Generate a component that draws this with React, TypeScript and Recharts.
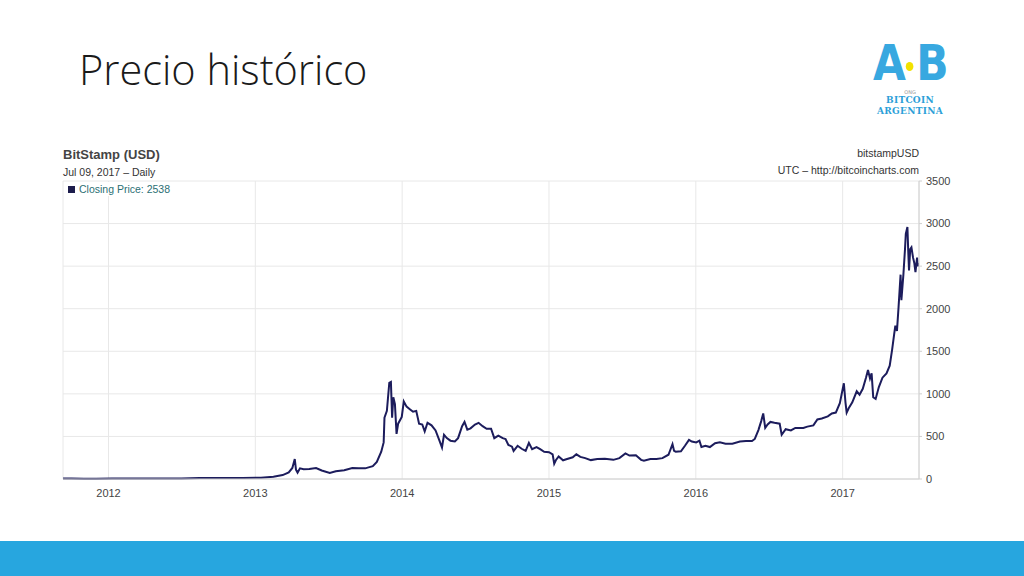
import React from 'react';
import { LineChart, Line, XAxis, YAxis, CartesianGrid } from 'recharts';

// BitStamp daily closing prices (USD)
const closeDates = [
  '2011-09-10', '2011-10-01', '2011-11-01', '2011-12-01', '2012-01-10', '2012-03-01', '2012-05-01',
  '2012-07-01', '2012-08-15', '2012-10-01', '2012-12-01', '2013-01-15', '2013-02-15', '2013-03-10',
  '2013-03-25', '2013-04-03', '2013-04-09', '2013-04-12', '2013-04-16', '2013-04-22', '2013-05-01',
  '2013-05-15', '2013-06-01', '2013-06-15', '2013-07-05', '2013-07-20', '2013-08-10', '2013-08-30',
  '2013-09-15', '2013-10-01', '2013-10-20', '2013-10-30', '2013-11-10', '2013-11-16', '2013-11-18',
  '2013-11-24', '2013-11-30', '2013-12-04', '2013-12-07', '2013-12-10', '2013-12-14', '2013-12-18',
  '2013-12-22', '2013-12-31', '2014-01-05', '2014-01-12', '2014-01-20', '2014-01-28', '2014-02-05',
  '2014-02-12', '2014-02-20', '2014-02-26', '2014-03-05', '2014-03-15', '2014-03-25', '2014-04-03',
  '2014-04-10', '2014-04-15', '2014-04-22', '2014-05-01', '2014-05-12', '2014-05-20', '2014-05-30',
  '2014-06-05', '2014-06-12', '2014-06-20', '2014-07-01', '2014-07-10', '2014-07-20', '2014-07-30',
  '2014-08-10', '2014-08-18', '2014-08-28', '2014-09-08', '2014-09-15', '2014-09-22', '2014-10-01',
  '2014-10-05', '2014-10-15', '2014-10-25', '2014-11-04', '2014-11-12', '2014-11-20', '2014-12-01',
  '2014-12-10', '2014-12-20', '2015-01-01', '2015-01-10', '2015-01-14', '2015-01-18', '2015-01-25',
  '2015-02-05', '2015-02-15', '2015-03-01', '2015-03-10', '2015-03-20', '2015-04-01', '2015-04-15',
  '2015-05-01', '2015-05-20', '2015-06-10', '2015-06-25', '2015-07-10', '2015-07-20', '2015-08-05',
  '2015-08-18', '2015-08-25', '2015-09-10', '2015-09-25', '2015-10-10', '2015-10-25', '2015-11-04',
  '2015-11-08', '2015-11-12', '2015-11-25', '2015-12-05', '2015-12-15', '2015-12-22', '2016-01-02',
  '2016-01-10', '2016-01-15', '2016-01-25', '2016-02-05', '2016-02-18', '2016-03-01', '2016-03-15',
  '2016-04-01', '2016-04-20', '2016-05-05', '2016-05-20', '2016-05-27', '2016-06-05', '2016-06-12',
  '2016-06-17', '2016-06-22', '2016-06-28', '2016-07-05', '2016-07-15', '2016-07-28', '2016-08-02',
  '2016-08-12', '2016-08-25', '2016-09-05', '2016-09-25', '2016-10-05', '2016-10-20', '2016-10-30',
  '2016-11-10', '2016-11-25', '2016-12-05', '2016-12-15', '2016-12-25', '2017-01-04', '2017-01-08',
  '2017-01-11', '2017-01-16', '2017-01-25', '2017-02-05', '2017-02-12', '2017-02-20', '2017-02-28',
  '2017-03-05', '2017-03-10', '2017-03-14', '2017-03-18', '2017-03-24', '2017-04-01', '2017-04-10',
  '2017-04-20', '2017-04-28', '2017-05-04', '2017-05-09', '2017-05-12', '2017-05-16', '2017-05-20',
  '2017-05-25', '2017-05-27', '2017-06-01', '2017-06-05', '2017-06-07', '2017-06-11', '2017-06-13',
  '2017-06-15', '2017-06-18', '2017-06-21', '2017-06-25', '2017-06-28', '2017-07-01', '2017-07-05',
  '2017-07-07', '2017-07-09',
];

const closePrices = [
  5, 5, 3.2, 3, 6.8, 5, 5.1,
  6.7, 12, 12.4, 12.6, 14, 27, 46,
  78, 130, 235, 110, 75, 125, 115,
  118, 128, 100, 70, 90, 103, 128,
  125, 125, 150, 200, 320, 430, 720,
  800, 1130, 1140, 720, 960, 880, 530,
  650, 730, 910, 850, 820, 790, 800,
  650, 640, 560, 660, 630, 570, 460,
  370, 520, 480, 450, 440, 480, 620,
  670, 580, 595, 640, 660, 620, 590,
  590, 480, 510, 480, 470, 400, 380,
  330, 390, 355, 330, 425, 350, 375,
  350, 320, 315, 290, 180, 220, 265,
  220, 235, 255, 290, 260, 245, 222,
  235, 238, 225, 245, 300, 275, 280,
  225, 215, 235, 235, 245, 285, 410,
  330, 320, 325, 390, 460, 440, 430,
  450, 375, 390, 375, 420, 430, 415,
  415, 440, 445, 445, 470, 575, 680,
  770, 600, 640, 670, 660, 650, 520,
  585, 570, 600, 600, 615, 630, 700,
  710, 735, 770, 780, 890, 1125, 900,
  780, 830, 900, 1030, 990, 1060, 1190,
  1280, 1180, 1240, 960, 940, 1080, 1190,
  1240, 1330, 1520, 1700, 1800, 1740, 2020,
  2400, 2100, 2400, 2700, 2880, 2960, 2680,
  2450, 2700, 2720, 2600, 2540, 2430, 2600,
  2500, 2538,
];

const yearTicks = [2012, 2013, 2014, 2015, 2016, 2017];
const priceTicks = [0, 500, 1000, 1500, 2000, 2500, 3000, 3500];

const toYear = (d: string) => {
  const t = Date.parse(d + 'T00:00:00Z');
  const y = new Date(t).getUTCFullYear();
  const start = Date.UTC(y, 0, 1);
  const end = Date.UTC(y + 1, 0, 1);
  return y + (t - start) / (end - start);
};

const data = closeDates.map((d, i) => ({ t: toYear(d), close: closePrices[i] }));

const chartFont = '"Liberation Sans", Arial, sans-serif';

const Logo = () => (
  <div style={{ position: 'absolute', left: 860, top: 38, width: 100, textAlign: 'center', fontFamily: '"DejaVu Sans", sans-serif' }}>
    <div style={{ position: 'relative', height: 50, fontWeight: 'bold', fontSize: 50, lineHeight: '50px', color: '#38a8e0', letterSpacing: -2, transform: 'scaleX(0.85)' }}>
      <span>A</span>
      <span style={{ display: 'inline-block', width: 9, height: 9, borderRadius: 5, background: '#f2e200', margin: '0 3px 0 2px', verticalAlign: 'middle' }}></span>
      <span>B</span>
    </div>
    <div style={{ fontSize: 5, color: '#999', marginTop: 1 }}>ONG</div>
    <div style={{ fontFamily: '"DejaVu Serif", serif', fontWeight: 'bold', fontSize: 9, color: '#2c9fd8', lineHeight: '11px', letterSpacing: 0.3 }}>BITCOIN</div>
    <div style={{ fontFamily: '"DejaVu Serif", serif', fontWeight: 'bold', fontSize: 9, color: '#2c9fd8', lineHeight: '11px', letterSpacing: 0.3 }}>ARGENTINA</div>
  </div>
);

const App = () => {
  return (
    <div style={{ position: 'absolute', left: 0, top: 0, width: 1024, height: 576, background: '#fff', overflow: 'hidden' }}>
      {/* Slide title */}
      <div style={{ position: 'absolute', left: 79, top: 41, fontFamily: '"Open Sans", sans-serif', fontWeight: 300, fontSize: 41.5, color: '#1a1a1a' }}>
        Precio histórico
      </div>
      <Logo />

      {/* Chart header texts */}
      <div style={{ position: 'absolute', left: 63, top: 147, fontFamily: chartFont, fontWeight: 'bold', fontSize: 13, color: '#444' }}>BitStamp (USD)</div>
      <div style={{ position: 'absolute', left: 63, top: 166, fontFamily: chartFont, fontSize: 10.5, color: '#333' }}>Jul 09, 2017 – Daily</div>
      <div style={{ position: 'absolute', right: 1024 - 919, top: 147, fontFamily: chartFont, fontSize: 10.5, color: '#333' }}>bitstampUSD</div>
      <div style={{ position: 'absolute', right: 1024 - 919, top: 164, fontFamily: chartFont, fontSize: 10.5, color: '#333' }}>UTC – http://bitcoincharts.com</div>

      <div style={{ position: 'absolute', left: 0, top: 0 }}>
        <LineChart width={1024} height={576} data={data} margin={{ top: 181, left: 63, right: 60, bottom: 77 }}>
          <CartesianGrid stroke="#e8e8e8" strokeWidth={1} />
          <XAxis
            dataKey="t"
            type="number"
            domain={[2011.69, 2017.52]}
            ticks={yearTicks}
            allowDataOverflow
            tickFormatter={(v: number) => String(Math.round(v))}
            height={20}
            stroke="#d0d0d0"
            tickLine={false}
            tick={{ fill: '#444', fontSize: 11, fontFamily: chartFont }}
            tickMargin={4}
          />
          <YAxis
            orientation="right"
            type="number"
            domain={[0, 3500]}
            ticks={priceTicks}
            width={45}
            stroke="#d0d0d0"
            tickSize={3}
            tickLine={{ stroke: '#d0d0d0' }}
            tick={{ fill: '#444', fontSize: 11, fontFamily: chartFont, textAnchor: 'start' }}
            tickMargin={4}
          />
          <Line
            type="linear"
            dataKey="close"
            stroke="#1c1c5c"
            strokeWidth={2}
            dot={false}
            isAnimationActive={false}
          />
        </LineChart>
      </div>

      {/* In-chart legend */}
      <div style={{ position: 'absolute', left: 64, top: 182, width: 188, height: 14, background: '#fff', fontFamily: chartFont, fontSize: 10.5, color: '#2b6f74', lineHeight: '14px' }}>
        <span style={{ display: 'inline-block', width: 7, height: 7, background: '#1c1c4c', margin: '0 4px 0 4px' }}></span>
        Closing Price: 2538
      </div>

      {/* Footer band */}
      <div style={{ position: 'absolute', left: 0, top: 541, width: 1024, height: 35, background: '#27a6df' }}></div>
    </div>
  );
};

export default App;
